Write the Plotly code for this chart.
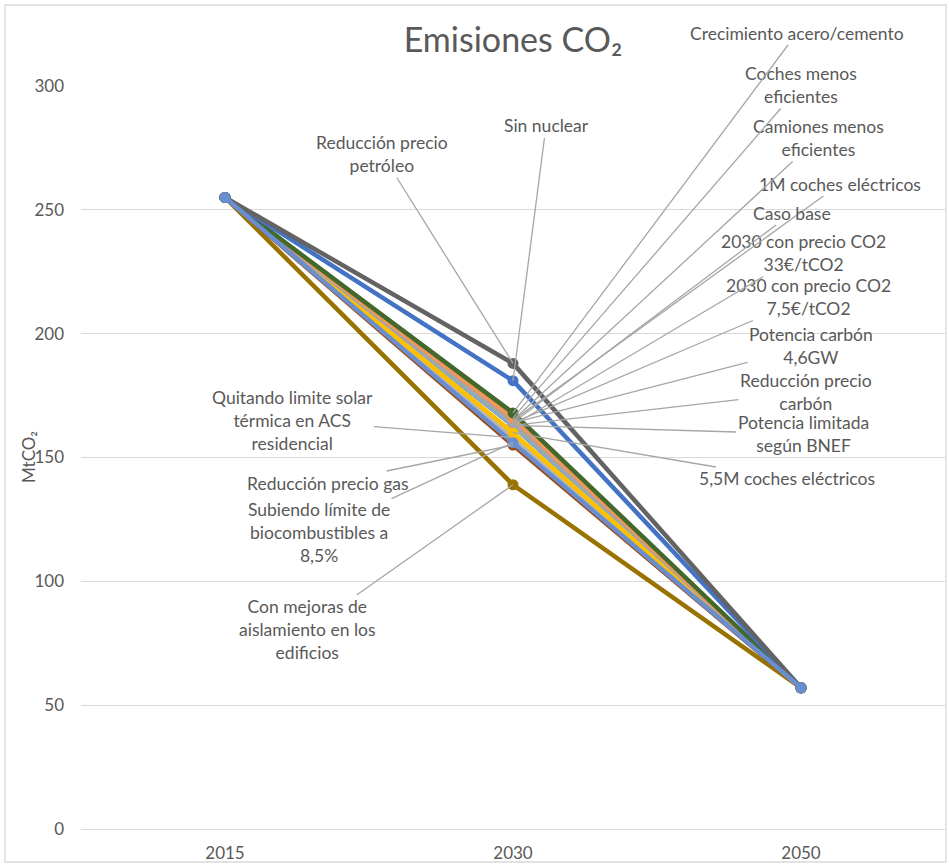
"""Emisiones CO2: escenarios 2015-2030-2050."""

import plotly.graph_objects as go

years = ['2015', '2030', '2050']
start_2015 = 255
end_2050 = 57

# draw order: hidden series first, visible ones on top
scenarios = [
    'Potencia limitada<br>según BNEF',
    'Reducción precio<br>carbón',
    'Potencia carbón<br>4,6GW',
    '2030 con precio CO2<br>7,5€/tCO2',
    '2030 con precio CO2<br>33€/tCO2',
    '1M coches eléctricos',
    'Camiones menos<br>eficientes',
    'Quitando limite solar<br>térmica en ACS<br>residencial',
    'Con mejoras de<br>aislamiento en los<br>edificios',
    'Reducción precio gas',
    '5,5M coches eléctricos',
    'Caso base',
    'Coches menos<br>eficientes',
    'Crecimiento acero/cemento',
    'Sin nuclear',
    'Reducción precio<br>petróleo',
    'Subiendo límite de<br>biocombustibles a<br>8,5%',
]
values_2030 = [163, 163, 164, 164, 163, 165, 165, 158, 139, 155, 160, 164, 166, 168,
               181, 188, 156]
colors = ['#264478', '#255E91', '#70AD47', '#5B9BD5', '#7CAFDD', '#ED7D31', '#FFCD33',
          '#B7B7B7', '#997300', '#9E480E', '#FFC000', '#A5A5A5', '#F1975A', '#43682B',
          '#4472C4', '#636363', '#698ED0']

# label centres in pixels (x, y) as placed in the original chart
label_pos = [(803, 434), (806, 392), (811, 346), (808, 297), (803, 253), (840, 184),
             (818, 138), (292, 420), (307, 630), (328, 483), (787, 479), (792, 213),
             (801, 85), (797, 33), (546, 126), (382, 154), (319, 532)]

W, H = 949, 866
L, R, T, B = 81, 4, 86, 37
YMAX = 300
FONT = 'Lato, Carlito, "Open Sans", sans-serif'
TXT = '#595959'
PW, PH = W - L - R, H - T - B


def y_to_px(v):
    return T + PH * (1 - v / YMAX)


fig = go.Figure()
for name, v, c in zip(scenarios, values_2030, colors):
    fig.add_trace(go.Scatter(x=years, y=[start_2015, v, end_2050], mode='lines+markers',
                             name=name.replace('<br>', ' '),
                             line=dict(color=c, width=4.5),
                             marker=dict(color=c, size=11)))

mid = years.index('2030')
annotations = []
for name, v, (cx, cy) in zip(scenarios, values_2030, label_pos):
    annotations.append(dict(x=mid, y=v, xref='x', yref='y', text=name,
                            showarrow=True, arrowhead=0, arrowwidth=1.3,
                            arrowcolor='#A6A6A6', standoff=0,
                            axref='pixel', ayref='pixel',
                            ax=cx - (L + (mid + 0.5) * PW / 3), ay=cy - y_to_px(v),
                            font=dict(family=FONT, size=17.5, color=TXT)))

annotations.append(dict(text='MtCO₂', textangle=-90, xref='paper', yref='paper',
                        x=(28 - L) / PW, y=(H - B - 457) / PH, xanchor='center',
                        yanchor='middle', showarrow=False,
                        font=dict(family=FONT, size=17, color=TXT)))

fig.add_shape(type='rect', xref='paper', yref='paper',
              x0=(5 - L) / PW, x1=(946 - L) / PW,
              y0=(H - B - 862) / PH, y1=(H - B - 5) / PH,
              line=dict(color='#D9D9D9', width=1.3), layer='below')

fig.update_layout(
    width=W, height=H,
    margin=dict(l=L, r=R, t=T, b=B),
    paper_bgcolor='white', plot_bgcolor='white',
    showlegend=False,
    title=dict(text='Emisiones CO₂', x=513 / W, xanchor='center', y=1 - 40 / H,
               yanchor='middle', font=dict(family=FONT, size=34, color=TXT)),
    annotations=annotations,
    font=dict(family=FONT, color=TXT),
)
fig.update_xaxes(type='category', range=[-0.5, 2.5], showgrid=False, showline=True,
                 linecolor='#D9D9D9', linewidth=1.3, ticks='',
                 tickfont=dict(family=FONT, size=17, color=TXT), ticklabelstandoff=8)
fig.update_yaxes(range=[0, YMAX], dtick=50, showgrid=True, gridcolor='#D9D9D9',
                 gridwidth=1.3, zeroline=False, ticks='',
                 tickfont=dict(family=FONT, size=17, color=TXT), ticklabelstandoff=16)

fig.write_html('out.html', config={'displayModeBar': False},
               post_script="document.body.style.margin='0';")
